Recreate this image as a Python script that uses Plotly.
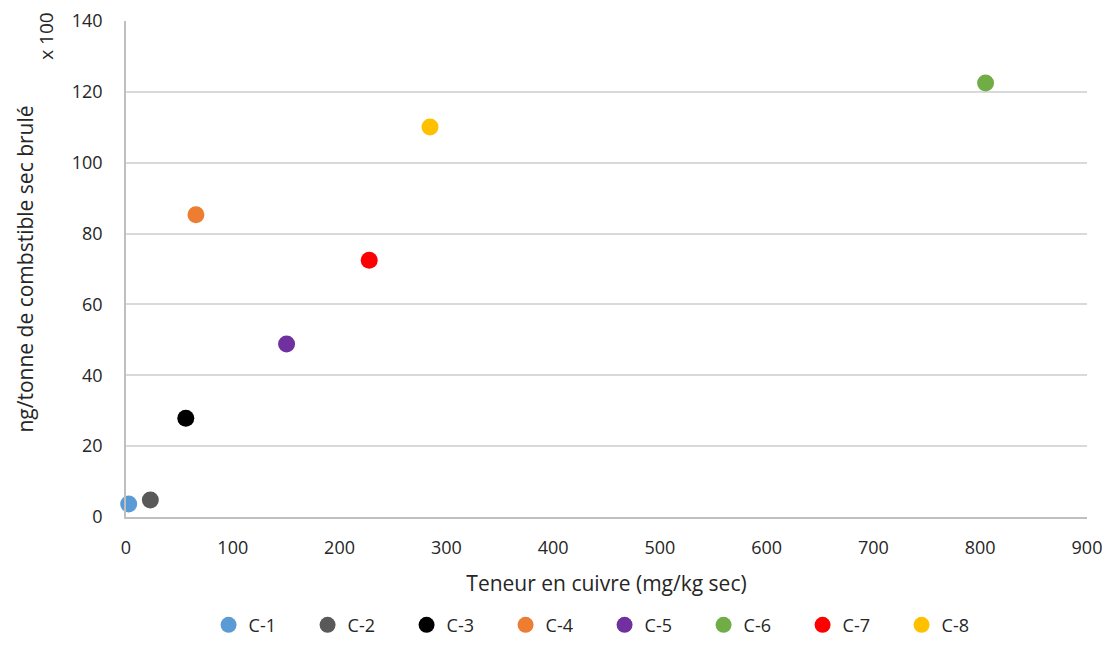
import plotly.graph_objects as go

names = ["C-1", "C-2", "C-3", "C-4", "C-5", "C-6", "C-7", "C-8"]
cuivre = [2.5, 22.8, 56, 65.5, 150.4, 805, 227.8, 284.7]
emission = [3.7, 4.8, 27.9, 85.3, 48.8, 122.5, 72.5, 110.1]
colors = ["#5B9BD5", "#595959", "#000000", "#ED7D31", "#7030A0", "#70AD47", "#FF0000", "#FFC000"]

font_family = "Open Sans, Liberation Sans, sans-serif"

fig = go.Figure()
for n, x, y, c in zip(names, cuivre, emission, colors):
    fig.add_trace(go.Scatter(
        x=[x], y=[y], mode="markers", name=n,
        marker=dict(color=c, size=17, line=dict(width=0)),
        cliponaxis=False,
    ))

fig.update_layout(
    width=1105, height=661,
    margin=dict(l=126, r=18, t=21, b=144, autoexpand=False),
    paper_bgcolor="white", plot_bgcolor="white",
    font=dict(family=font_family, size=18, color="#262626"),
    showlegend=True,
    legend=dict(orientation="h", x=0.498, xanchor="center", y=-0.218, yanchor="middle",
                font=dict(size=18, color="#262626"), itemwidth=30, tracegroupgap=0,
                entrywidth=54, entrywidthmode="pixels"),
    xaxis=dict(range=[0, 900], dtick=100, showgrid=False, zeroline=False,
               showline=True, linecolor="#BFBFBF", linewidth=1.5, ticks="",
               ticklabelstandoff=14, automargin=False,
               title=dict(text="Teneur en cuivre (mg/kg sec)", font=dict(size=21), standoff=18)),
    yaxis=dict(range=[0, 140], dtick=20, showgrid=True, gridcolor="#D9D9D9", gridwidth=1.5,
               zeroline=False, showline=True, linecolor="#BFBFBF", linewidth=1.5, ticks="",
               ticklabelstandoff=18, automargin=False,
               title=dict(text="ng/tonne de combstible sec brulé", font=dict(size=21), standoff=32)),
)

fig.add_annotation(text="x 100", xref="paper", yref="paper", x=-0.084, y=1.02,
                   xanchor="center", yanchor="top", textangle=-90, showarrow=False,
                   font=dict(size=19, color="#262626"))

fig.write_html("out.html",
               config={"displayModeBar": False},
               post_script="document.body.style.margin='0';document.body.style.overflow='hidden';")
